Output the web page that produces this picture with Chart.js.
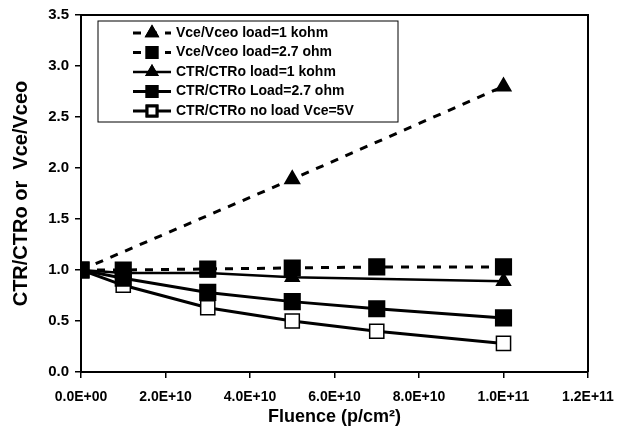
<!DOCTYPE html>
<html>
<head>
<meta charset="utf-8">
<script src="https://cdn.jsdelivr.net/npm/chart.js@4"></script>
<style>
body{margin:0;background:#fff}
#wrap{width:619px;height:435px}
</style>
</head>
<body>
<div id="wrap"><canvas id="ctrChart"></canvas></div>
<script>
// fluence values (p/cm2)
const fluenceA = [0, 5e10, 1e11]
const fluenceB = [0, 1e10, 3e10, 5e10, 7e10, 1e11]
const fluenceC = [0, 1e10, 3e10, 5e10, 1e11]

const vceLoad1k = [1.0, 1.89, 2.80]
const vceLoad27 = [1.0, 1.0, 1.01, 1.02, 1.03, 1.03]
const ctrLoad1k = [1.0, 0.97, 0.97, 0.93, 0.89]
const ctrLoad27 = [1.0, 0.92, 0.78, 0.69, 0.62, 0.53]
const ctrNoLoad = [1.0, 0.85, 0.63, 0.50, 0.40, 0.28]

const seriesNames = [
"Vce/Vceo load=1 kohm",
"Vce/Vceo load=2.7 ohm",
"CTR/CTRo load=1 kohm",
"CTR/CTRo Load=2.7 ohm",
"CTR/CTRo no load Vce=5V"
]

const xTicks = [0, 2e10, 4e10, 6e10, 8e10, 1e11, 1.2e11]
const yTicks = [0, 0.5, 1.0, 1.5, 2.0, 2.5, 3.0, 3.5]

const pts = (xs, ys) => xs.map((x, i) => ({x: x, y: ys[i]}))

const fmtE = v => {
if (v === 0) return "0.0E+00"
const e = Math.floor(Math.log10(v) + 1e-9)
const m = v / Math.pow(10, e)
return m.toFixed(1) + "E+" + String(e).padStart(2, "0")
}

const FONT = "'Liberation Sans', Arial, sans-serif"

// frame + legend inside the plot area
const frameLegend = {
id: "frameLegend",
afterDraw(chart) {
const c = chart.ctx
const a = chart.chartArea
c.save()
c.strokeStyle = "#000"
c.lineWidth = 2
c.beginPath()
c.moveTo(a.left, a.top)
c.lineTo(a.right, a.top)
c.lineTo(a.right, a.bottom)
c.stroke()

const bx = a.left + 17, by = a.top + 6, bw = 300, bh = 101
c.fillStyle = "#fff"
c.fillRect(bx, by, bw, bh)
c.lineWidth = 1
c.strokeRect(bx, by, bw, bh)

c.font = "bold 14px " + FONT
c.textBaseline = "middle"
chart.data.datasets.forEach((ds, i) => {
const y = by + 12 + i * 19.5
const x0 = bx + 35, x1 = bx + 73, xm = (x0 + x1) / 2
c.strokeStyle = "#000"
c.lineWidth = ds.borderWidth
c.setLineDash(ds.borderDash || [])
c.beginPath()
c.moveTo(x0, y)
c.lineTo(x1, y)
c.stroke()
c.setLineDash([])
Chart.helpers.drawPoint(c, {
pointStyle: ds.pointStyle,
radius: ds.pointStyle === "triangle" ? 5.5 : 7,
borderWidth: 1.2
}, xm, y)
c.fillStyle = ds.pointBackgroundColor
c.strokeStyle = "#000"
c.fill()
c.stroke()
c.fillStyle = "#000"
c.fillText(seriesNames[i], bx + 78, y)
})
c.restore()
}
}

const ctx = document.getElementById("ctrChart")

new Chart(ctx, {
type: "line",
data: {
datasets: [
{
label: seriesNames[0],
data: pts(fluenceA, vceLoad1k),
borderColor: "#000",
borderWidth: 3,
borderDash: [8, 8],
pointStyle: "triangle",
pointRadius: 7,
pointBackgroundColor: "#000",
pointBorderColor: "#000"
},
{
label: seriesNames[1],
data: pts(fluenceB, vceLoad27),
borderColor: "#000",
borderWidth: 3,
borderDash: [8, 8],
pointStyle: "rect",
pointRadius: 10,
pointBackgroundColor: "#000",
pointBorderColor: "#000"
},
{
label: seriesNames[2],
data: pts(fluenceC, ctrLoad1k),
borderColor: "#000",
borderWidth: 2.5,
pointStyle: "triangle",
pointRadius: 7,
pointBackgroundColor: "#000",
pointBorderColor: "#000"
},
{
label: seriesNames[3],
data: pts(fluenceB, ctrLoad27),
borderColor: "#000",
borderWidth: 3,
pointStyle: "rect",
pointRadius: 10,
pointBackgroundColor: "#000",
pointBorderColor: "#000"
},
{
label: seriesNames[4],
data: pts(fluenceB, ctrNoLoad),
borderColor: "#000",
borderWidth: 3,
pointStyle: "rect",
pointRadius: 10,
pointBackgroundColor: "#fff",
pointBorderColor: "#000",
pointBorderWidth: 1.5
}
]
},
options: {
responsive: true,
maintainAspectRatio: false,
animation: false,
layout: {padding: {top: 15, right: 31, left: 0, bottom: 0}},
plugins: {
legend: {display: false},
tooltip: {enabled: false}
},
scales: {
x: {
type: "linear",
min: 0,
max: 1.2e11,
afterFit: s => { s.height = 63; s.paddingLeft = 0; s.paddingRight = 0 },
afterBuildTicks: s => { s.ticks = xTicks.map(v => ({value: v})) },
ticks: {
color: "#000",
padding: 11,
maxRotation: 0,
autoSkip: false,
font: {family: FONT, size: 14, weight: "bold"},
callback: v => fmtE(v)
},
grid: {display: true, drawOnChartArea: false, drawTicks: true, tickLength: 6, color: "#000", lineWidth: 1.5},
border: {display: true, color: "#000", width: 2},
title: {
display: true,
text: "Fluence (p/cm\u00b2)",
color: "#000",
font: {family: FONT, size: 18, weight: "bold"},
padding: {top: 0, bottom: 7}
}
},
y: {
min: 0,
max: 3.5,
afterFit: s => { s.width = 81; s.paddingTop = 0; s.paddingBottom = 0 },
afterBuildTicks: s => { s.ticks = yTicks.map(v => ({value: v})) },
ticks: {
color: "#000",
padding: 6,
font: {family: FONT, size: 15, weight: "bold"},
callback: v => v.toFixed(1)
},
grid: {display: true, drawOnChartArea: false, drawTicks: true, tickLength: 6, color: "#000", lineWidth: 1.5},
border: {display: true, color: "#000", width: 2},
title: {
display: true,
text: "CTR/CTRo or  Vce/Vceo",
color: "#000",
font: {family: FONT, size: 20, weight: "bold"},
padding: {top: 9, bottom: 0}
}
}
}
},
plugins: [frameLegend]
})
</script>
</body>
</html>
